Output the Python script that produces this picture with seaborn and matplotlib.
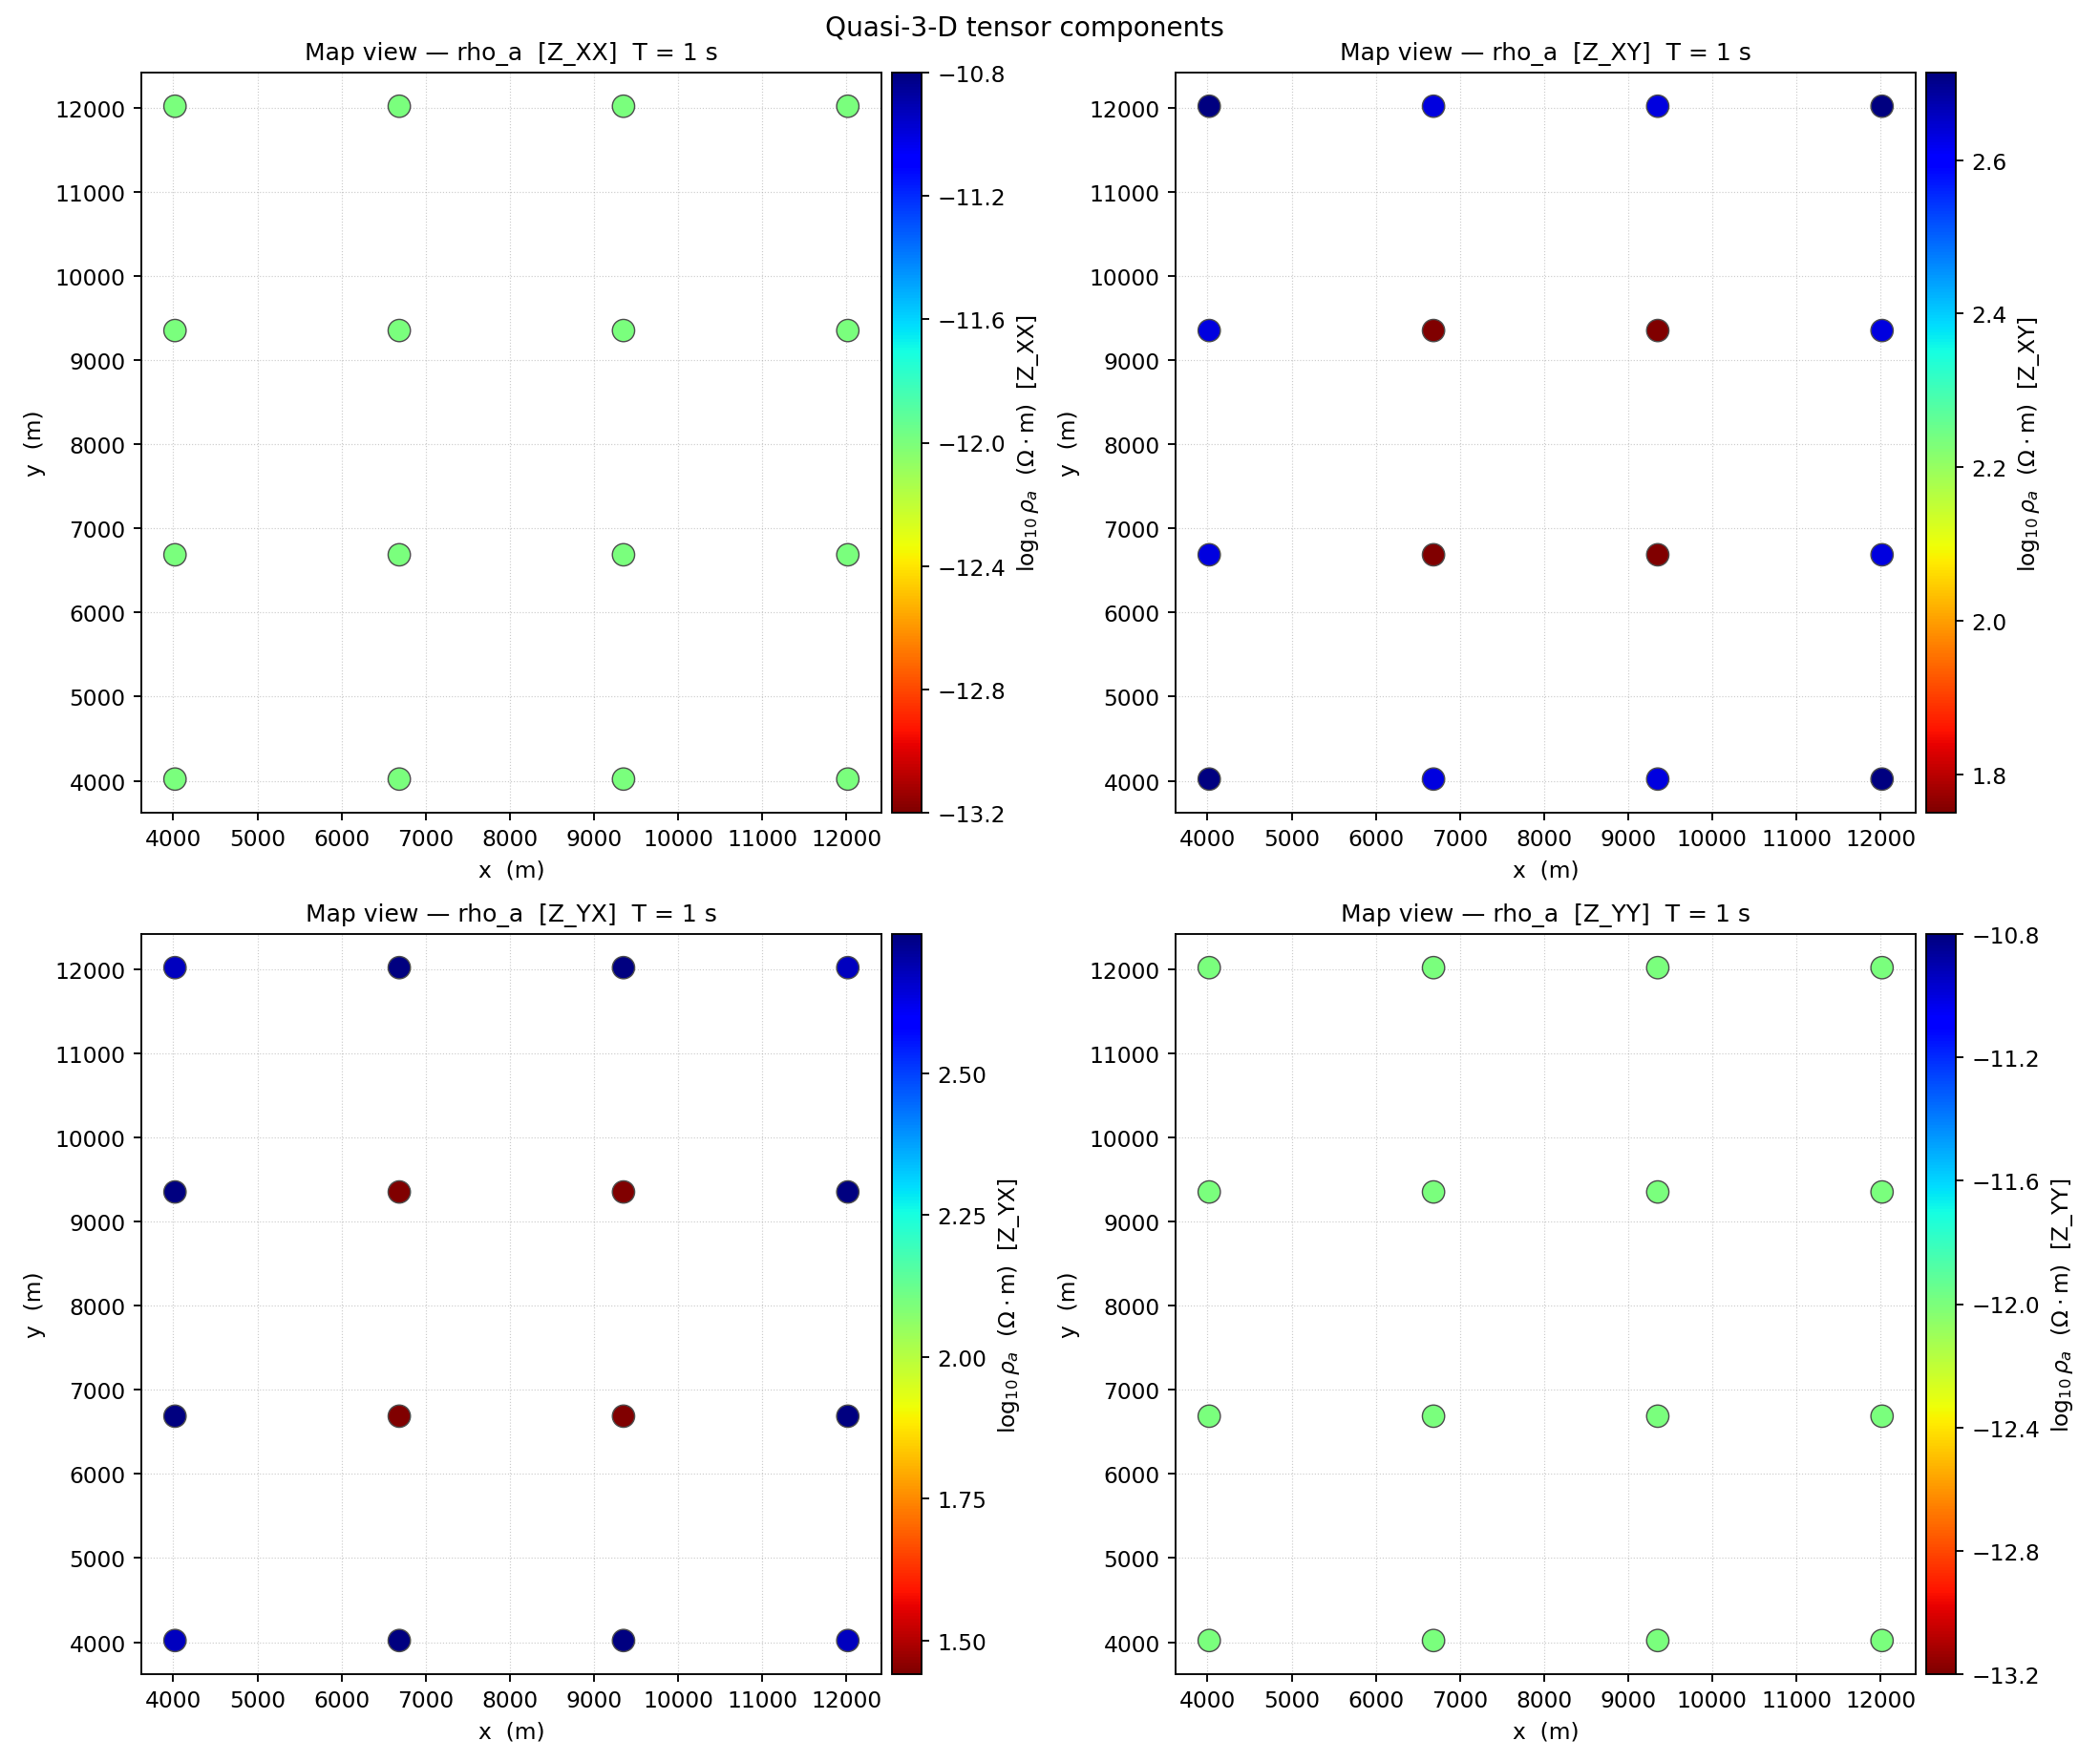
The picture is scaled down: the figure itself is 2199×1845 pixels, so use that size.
import numpy as np
import pandas as pd
import matplotlib
matplotlib.use("Agg")
import matplotlib.pyplot as plt
import matplotlib.colors as mcolors
import seaborn as sns

# station grid (m)
x_stations = [4020, 6687, 9353, 12020]
y_stations = [12020, 9353, 6687, 4020]   # rows, top to bottom

# log10 rho_a per component, one row per y station (top -> bottom)
z_xx = [[-12.0, -12.0, -12.0, -12.0],
        [-12.0, -12.0, -12.0, -12.0],
        [-12.0, -12.0, -12.0, -12.0],
        [-12.0, -12.0, -12.0, -12.0]]
z_xy = [[2.714, 2.633, 2.633, 2.714],
        [2.633, 1.750, 1.750, 2.633],
        [2.633, 1.750, 1.750, 2.633],
        [2.714, 2.633, 2.633, 2.714]]
z_yx = [[2.673, 2.745, 2.745, 2.673],
        [2.745, 1.441, 1.441, 2.745],
        [2.745, 1.441, 1.441, 2.745],
        [2.673, 2.745, 2.745, 2.673]]
z_yy = [[-12.0, -12.0, -12.0, -12.0],
        [-12.0, -12.0, -12.0, -12.0],
        [-12.0, -12.0, -12.0, -12.0],
        [-12.0, -12.0, -12.0, -12.0]]

components = ["Z_XX", "Z_XY", "Z_YX", "Z_YY"]
values = [z_xx, z_xy, z_yx, z_yy]
# colour ranges and ticks as shown on the colour bars
ranges = [(-13.2, -10.8), (1.750, 2.714), (1.441, 2.745), (-13.2, -10.8)]
cbar_ticks = [[-13.2, -12.8, -12.4, -12.0, -11.6, -11.2, -10.8],
              [1.8, 2.0, 2.2, 2.4, 2.6],
              [1.50, 1.75, 2.00, 2.25, 2.50],
              [-13.2, -12.8, -12.4, -12.0, -11.6, -11.2, -10.8]]

DPI = 168
W, H = 2199, 1846
fig = plt.figure(figsize=(W / DPI, H / DPI), dpi=DPI)

# axes boxes in pixels: left, top
boxes = [(148, 77), (1231, 77), (148, 979), (1231, 979)]
size = 775

def frac(left, top, w, h):
    return [left / W, 1 - (top + h) / H, w / W, h / H]

for comp, vals, (vmin, vmax), ticks, (left, top) in zip(
        components, values, ranges, cbar_ticks, boxes):
    rows = []
    for yi, row in zip(y_stations, vals):
        for xi, v in zip(x_stations, row):
            rows.append((xi, yi, v))
    df = pd.DataFrame(rows, columns=["x", "y", "v"])

    ax = fig.add_axes(frac(left, top, size, size))
    cax = fig.add_axes(frac(left + size + 11, top, 31, size))
    norm = mcolors.Normalize(vmin=vmin, vmax=vmax)

    sns.scatterplot(data=df, x="x", y="y", hue="v", palette="jet_r",
                    hue_norm=norm, s=100, edgecolor="0.3", linewidth=0.6,
                    legend=False, ax=ax)
    ax.set_axisbelow(True)
    ax.grid(True, linestyle=":", linewidth=0.5, color="0.6", alpha=0.5)
    ax.set_title(f"Map view — rho_a  [{comp}]  T = 1 s", fontsize=10.7)
    ax.set_xlabel("x  (m)")
    ax.set_ylabel("y  (m)")

    sm = plt.cm.ScalarMappable(norm=norm, cmap="jet_r")
    cb = fig.colorbar(sm, cax=cax)
    cb.set_ticks(ticks)
    cb.set_label(r"$\log_{10}\rho_a$  ($\Omega\cdot$m)  [" + comp + "]")

fig.text(1073 / W, 1 - 30 / H, "Quasi-3-D tensor components",
         ha="center", va="center", fontsize=12)

fig.savefig("out.png", dpi=DPI)
